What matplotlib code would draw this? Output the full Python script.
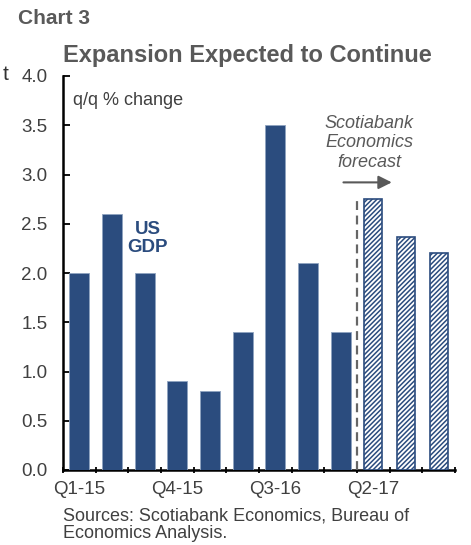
import matplotlib
matplotlib.use("Agg")
import matplotlib.pyplot as plt
import numpy as np

# Data
quarters = ["Q1-15", "Q2-15", "Q3-15", "Q4-15", "Q1-16", "Q2-16", "Q3-16",
            "Q4-16", "Q1-17", "Q2-17", "Q3-17", "Q4-17"]
actual = [2.0, 2.6, 2.0, 0.9, 0.8, 1.4, 3.5, 2.1, 1.4]
forecast = [2.75, 2.37, 2.2]
y_ticks = [0.0, 0.5, 1.0, 1.5, 2.0, 2.5, 3.0, 3.5, 4.0]

BLUE = "#2B4C7E"
GRAY = "#595959"

plt.rcParams['font.family'] = ['Liberation Sans', 'DejaVu Sans']
plt.rcParams['hatch.linewidth'] = 1.1

fig = plt.figure(figsize=(4.71, 5.45), dpi=100)
ax = fig.add_axes([63 / 471, 75 / 545, 392 / 471, 394 / 545])

x = np.arange(len(quarters))
n_act = len(actual)
ax.bar(x[:n_act], actual, width=0.61, color=BLUE, edgecolor="#8fa3c0", linewidth=0.6, zorder=3)
ax.bar(x[n_act:], forecast, width=0.55, color="white", edgecolor=BLUE, hatch="///////",
       linewidth=1.2, zorder=3)

ax.set_xlim(-0.5, len(quarters) - 0.5)
ax.set_ylim(0, 4.0)
ax.set_yticks(y_ticks)
ax.set_yticklabels([f"{v:.1f}" for v in y_ticks])
ax.set_xticks(x[::3])
ax.set_xticklabels(quarters[::3])
ax.set_xticks(np.arange(-0.5, len(quarters)), minor=True)
ax.tick_params(axis="x", which="major", length=0, pad=8, labelsize=13.5, labelcolor="#404040")
ax.tick_params(axis="x", which="minor", length=5, direction="inout", width=1.3)
ax.tick_params(axis="y", direction="in", length=5, width=1.3, pad=30, labelsize=13.5,
               labelcolor="#404040")
for lab in ax.get_yticklabels():
    lab.set_horizontalalignment("left")
ax.spines['top'].set_visible(False)
ax.spines['right'].set_visible(False)
ax.spines['left'].set_linewidth(1.8)
ax.spines['bottom'].set_linewidth(1.8)

# forecast divider
ax.axvline(n_act - 0.5, ymin=0, ymax=0.69, color="#666666", linestyle=(0, (4, 2.5)),
           linewidth=1.6, zorder=4)

# annotations
ax.text(-0.2, 3.75, "q/q % change", fontsize=13, color="#404040", va="center")
ax.text(2.1, 2.35, "US\nGDP", fontsize=13.5, fontweight="bold", color=BLUE,
        ha="center", va="center", linespacing=1.15)
ax.text(8.87, 3.32, "Scotiabank\nEconomics\nforecast", fontsize=13, style="italic",
        color=GRAY, ha="center", va="center", linespacing=1.2)
ax.annotate("", xy=(9.65, 2.92), xytext=(8.0, 2.92),
            arrowprops=dict(arrowstyle="-|>", color=GRAY, lw=1.5, mutation_scale=20))

fig.text(18 / 471, 1 - 18 / 545, "Chart 3", fontsize=15, fontweight="bold",
         color=GRAY, va="center", family=['Liberation Sans Narrow', 'Liberation Sans'])
fig.text(247 / 471, 1 - 55 / 545, "Expansion Expected to Continue", fontsize=17,
         fontweight="bold", color=GRAY, ha="center", va="center")
fig.text(3 / 471, 1 - 74 / 545, "t", fontsize=15, color="#333333", va="center")
fig.text(63 / 471, 1 - 525 / 545, "Sources: Scotiabank Economics, Bureau of\nEconomics Analysis.",
         fontsize=13, color="#404040", va="center", linespacing=1.05)

fig.savefig("out.png", dpi=100)
